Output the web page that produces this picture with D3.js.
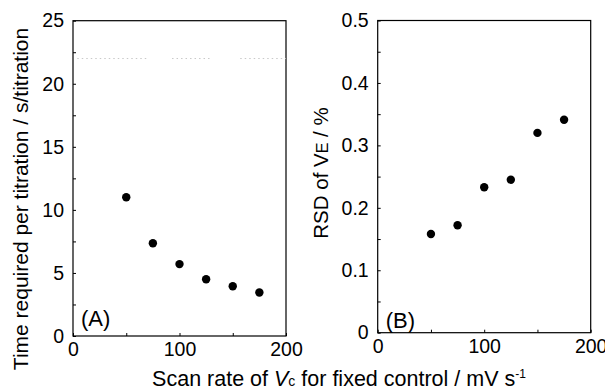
<!DOCTYPE html>
<html>
<head>
<meta charset="utf-8">
<script src="https://cdn.jsdelivr.net/npm/d3@7"></script>
<style>
  body { margin: 0; background: #fff; }
  svg { display: block; font-family: "Liberation Sans", Arial, sans-serif; }
  .tick text { font-size: 19.5px; fill: #000; }
  .tick line { stroke: #000; }
</style>
</head>
<body>
<div id="chart"></div>
<script>
// scan rates, mV/s
var scanRates = [50, 75, 100, 125, 150, 175];
// panel A: time per titration, s
var timePerTitration = [11.0, 7.35, 5.7, 4.5, 3.95, 3.45];
// panel B: RSD of VE, %
var rsdVE = [0.158, 0.172, 0.233, 0.245, 0.320, 0.341];

var xTicks = [0, 50, 100, 150, 200];
var xLabels = [0, 100, 200];
var yTicksA = d3.range(0, 25.01, 2.5);
var yTicksB = d3.range(0, 0.501, 0.05);

// faint dotted trace across the top of panel A (y, then x spans)
var traceY = 22;
var traceSpans = [[4, 69], [93, 131], [157, 200]];

var width = 605, height = 391;

var svg = d3.select('#chart').append('svg')
  .attr('width', width)
  .attr('height', height);

function panel(opts) {
  var x = d3.scaleLinear().domain([0, 200]).range([opts.left, opts.right]);
  var y = d3.scaleLinear().domain([0, opts.ymax]).range([opts.bottom, opts.top]);
  var g = svg.append('g');

  g.append('rect')
    .attr('x', opts.left)
    .attr('y', opts.top)
    .attr('width', opts.right - opts.left)
    .attr('height', opts.bottom - opts.top)
    .attr('fill', 'none')
    .attr('stroke', '#000')
    .attr('stroke-width', 1.2);

  var yAxis = d3.axisLeft(y)
    .tickValues(opts.yTicks)
    .tickSizeInner(-3)
    .tickSizeOuter(0)
    .tickPadding(9)
    .tickFormat(function(d) {
      var r = Math.round(d / opts.labelStep * 1000) / 1000;
      if (Math.abs(r - Math.round(r)) > 1e-6) return '';
      return opts.fmt(d);
    });

  g.append('g')
    .attr('transform', 'translate(' + opts.left + ',0)')
    .call(yAxis)
    .call(function(s) { s.select('.domain').remove(); });

  var xAxis = d3.axisBottom(x)
    .tickValues(xTicks)
    .tickSizeInner(-3)
    .tickSizeOuter(0)
    .tickPadding(6)
    .tickFormat(function(d) { return xLabels.indexOf(d) >= 0 ? d : ''; });

  g.append('g')
    .attr('transform', 'translate(0,' + opts.bottom + ')')
    .call(xAxis)
    .call(function(s) { s.select('.domain').remove(); });

  g.selectAll('circle')
    .data(scanRates)
    .enter().append('circle')
    .attr('cx', function(d) { return x(d); })
    .attr('cy', function(d, i) { return y(opts.values[i]); })
    .attr('r', 4.2)
    .attr('fill', '#000');

  g.append('text')
    .attr('x', opts.left + 8)
    .attr('y', opts.bottom - opts.tagLift)
    .attr('font-size', 22)
    .text(opts.tag);

  return { x: x, y: y, g: g };
}

var a = panel({
  left: 73, right: 286, top: 20.7, bottom: 336,
  ymax: 25, yTicks: yTicksA, labelStep: 5,
  fmt: d3.format('d'),
  values: timePerTitration, tag: '(A)', tagLift: 10
});

a.g.selectAll('line.trace')
  .data(traceSpans)
  .enter().append('line')
  .attr('class', 'trace')
  .attr('x1', function(d) { return a.x(d[0]); })
  .attr('x2', function(d) { return a.x(d[1]); })
  .attr('y1', a.y(traceY))
  .attr('y2', a.y(traceY))
  .attr('stroke', '#c8c8c8')
  .attr('stroke-width', 1)
  .attr('stroke-dasharray', '1.5,3');

panel({
  left: 377.7, right: 590.7, top: 20.5, bottom: 332.7,
  ymax: 0.5, yTicks: yTicksB, labelStep: 0.1,
  fmt: function(d) { return d === 0 ? '0' : d3.format('.1f')(d); },
  values: rsdVE, tag: '(B)', tagLift: 5
});

// axis titles
svg.append('text')
  .attr('transform', 'translate(27.5,199) rotate(-90)')
  .attr('text-anchor', 'middle')
  .attr('font-size', 21)
  .text('Time required per titration / s/titration');

var rsd = svg.append('text')
  .attr('transform', 'translate(328,173) rotate(-90)')
  .attr('text-anchor', 'middle')
  .attr('font-size', 20.5);
rsd.append('tspan').text('RSD of V');
rsd.append('tspan').attr('font-size', 16).text('E');
rsd.append('tspan').text(' / %');

var xt = svg.append('text')
  .attr('x', 339)
  .attr('y', 386)
  .attr('text-anchor', 'middle')
  .attr('font-size', 21.5);
xt.append('tspan').text('Scan rate of ');
xt.append('tspan').attr('font-style', 'italic').text('V');
xt.append('tspan').attr('font-size', 14).text('c');
xt.append('tspan').text(' for fixed control / mV s');
xt.append('tspan').attr('font-size', 12).attr('dy', -8).text('-1');
</script>
</body>
</html>
